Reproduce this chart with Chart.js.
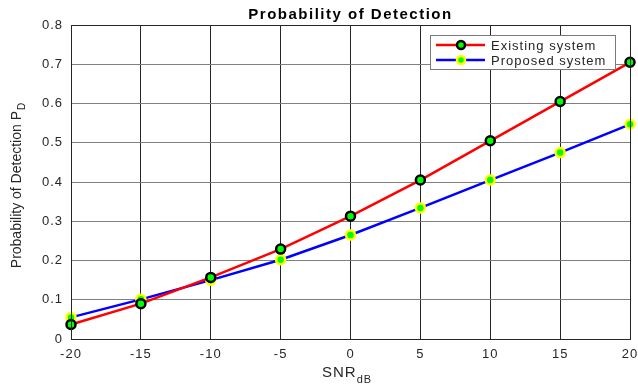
<!DOCTYPE html>
<html>
<head>
<meta charset="utf-8">
<script src="https://cdn.jsdelivr.net/npm/chart.js@4.4.0/dist/chart.umd.min.js"></script>
<style>
  html, body { margin: 0; padding: 0; background: #fff; overflow: hidden; }
  #wrap { width: 638px; height: 387px; position: relative; }
</style>
</head>
<body>
<div id="wrap"><canvas id="pdChart"></canvas></div>
<script>
// ---------- DATA ----------
const snrDb = [-20, -15, -10, -5, 0, 5, 10, 15, 20];
const existingPd = [0.037, 0.090, 0.157, 0.229, 0.313, 0.405, 0.505, 0.605, 0.705];
const proposedPd = [0.055, 0.101, 0.150, 0.202, 0.265, 0.334, 0.405, 0.475, 0.547];
const seriesNames = ["Existing system", "Proposed system"];

const FONT = "'Liberation Sans', Arial, Helvetica, sans-serif";
const TICK_COLOR = "#262626";

// wider letter spacing like the exported figure
const spacingPlugin = {
  id: "spacing",
  beforeDraw(chart) { chart.ctx.letterSpacing = "1px"; }
};

// legend, titles with subscripts, drawn by hand
const extrasPlugin = {
  id: "extras",
  afterDraw(chart) {
    const ctx = chart.ctx;
    const area = chart.chartArea;
    ctx.save();

    // plot box
    ctx.strokeStyle = "#262626";
    ctx.lineWidth = 1;
    ctx.strokeRect(area.left + 0.5, area.top + 0.5, area.right - area.left, area.bottom - area.top);

    // title
    ctx.fillStyle = "#000";
    ctx.letterSpacing = "1.5px";
    ctx.font = "bold 15px " + FONT;
    ctx.textAlign = "center";
    ctx.textBaseline = "middle";
    ctx.fillText("Probability of Detection", (area.left + area.right) / 2, 15);

    // x title SNR_dB
    ctx.letterSpacing = "1px";
    ctx.fillStyle = TICK_COLOR;
    ctx.textAlign = "left";
    ctx.textBaseline = "alphabetic";
    ctx.font = "15px " + FONT;
    ctx.fillText("SNR", 322, 377);
    const w = ctx.measureText("SNR").width;
    ctx.font = "11px " + FONT;
    ctx.fillText("dB", 322 + w, 383);

    // y title Probability of Detection P_D
    ctx.letterSpacing = "0px";
    ctx.translate(21, 186);
    ctx.rotate(-Math.PI / 2);
    ctx.font = "14px 'Liberation Sans Narrow', " + FONT;
    const main = "Probability of Detection P";
    const mw = ctx.measureText(main).width;
    ctx.font = "10px 'Liberation Sans Narrow', " + FONT;
    const sw = ctx.measureText("D").width;
    const start = -(mw + sw) / 2;
    ctx.font = "14px 'Liberation Sans Narrow', " + FONT;
    ctx.textAlign = "left";
    ctx.fillText(main, start, 0);
    ctx.font = "10px 'Liberation Sans Narrow', " + FONT;
    ctx.fillText("D", start + mw + 1, 4);
    ctx.setTransform(1, 0, 0, 1, 0, 0);

    // legend
    const lx = 430, ly = 35, lw = 185, lh = 34;
    ctx.fillStyle = "#fff";
    ctx.fillRect(lx, ly, lw, lh);
    ctx.strokeStyle = "#7a7a7a";
    ctx.lineWidth = 1;
    ctx.strokeRect(lx + 0.5, ly + 0.5, lw, lh);
    ctx.letterSpacing = "1px";
    chart.data.datasets.forEach((ds, i) => {
      const y = ly + 10 + i * 15;
      ctx.strokeStyle = ds.borderColor;
      ctx.lineWidth = 2.5;
      ctx.beginPath();
      ctx.moveTo(436, y);
      ctx.lineTo(485, y);
      ctx.stroke();
      ctx.beginPath();
      ctx.arc(461, y, 4, 0, Math.PI * 2);
      ctx.fillStyle = ds.pointBackgroundColor;
      ctx.fill();
      ctx.strokeStyle = ds.pointBorderColor;
      ctx.lineWidth = 2.5;
      ctx.stroke();
      ctx.fillStyle = TICK_COLOR;
      ctx.font = "13px " + FONT;
      ctx.textAlign = "left";
      ctx.textBaseline = "middle";
      ctx.fillText(ds.label, 491, y + 1);
    });
    ctx.restore();
  }
};

new Chart(document.getElementById("pdChart"), {
  type: "line",
  data: {
    labels: snrDb,
    datasets: [
      {
        label: seriesNames[0],
        data: snrDb.map((x, i) => ({ x: x, y: existingPd[i] })),
        borderColor: "#ff0000",
        borderWidth: 2.5,
        pointRadius: 4.5,
        pointBorderWidth: 2.5,
        pointBackgroundColor: "#00ff00",
        pointBorderColor: "#000000",
        tension: 0,
        fill: false,
        clip: false
      },
      {
        label: seriesNames[1],
        data: snrDb.map((x, i) => ({ x: x, y: proposedPd[i] })),
        borderColor: "#0000ff",
        borderWidth: 2.5,
        pointRadius: 4.5,
        pointBorderWidth: 2.5,
        pointBackgroundColor: "#00ff00",
        pointBorderColor: "#ffff00",
        tension: 0,
        fill: false,
        clip: false
      }
    ]
  },
  options: {
    responsive: true,
    maintainAspectRatio: false,
    animation: false,
    layout: { padding: { top: 25, right: 8, left: 0, bottom: 0 } },
    plugins: {
      legend: { display: false },
      title: { display: false },
      tooltip: { enabled: false }
    },
    scales: {
      x: {
        type: "linear",
        min: -20,
        max: 20,
        ticks: {
          stepSize: 5,
          color: TICK_COLOR,
          font: { family: FONT, size: 13 },
          padding: 8,
          maxRotation: 0
        },
        grid: { color: "#262626", lineWidth: 1, drawTicks: false },
        border: { display: false },
        afterFit(s) { s.height = 48; s.paddingLeft = 0; s.paddingRight = 0; }
      },
      y: {
        min: 0,
        max: 0.8,
        ticks: {
          stepSize: 0.1,
          color: TICK_COLOR,
          font: { family: FONT, size: 13 },
          padding: 8,
          callback: v => (Math.round(v * 10) / 10).toString()
        },
        grid: { color: "#808080", lineWidth: 1, drawTicks: false },
        border: { display: false },
        afterFit(s) { s.width = 71; s.paddingTop = 0; s.paddingBottom = 0; }
      }
    }
  },
  plugins: [spacingPlugin, extrasPlugin]
});
</script>
</body>
</html>
